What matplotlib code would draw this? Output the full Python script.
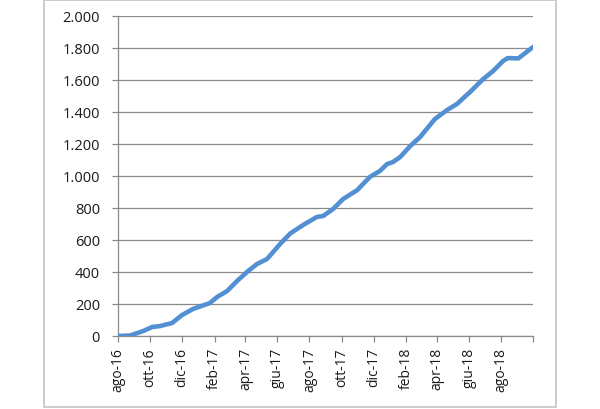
import matplotlib
matplotlib.use("Agg")
import matplotlib.pyplot as plt
from matplotlib.ticker import FuncFormatter
from matplotlib.patches import Rectangle
import pandas as pd

# ---- data ----
dates = ["2016-08-01", "2016-08-24", "2016-09-18", "2016-10-05", "2016-10-20",
         "2016-11-12", "2016-12-01", "2016-12-22", "2017-01-23", "2017-02-06",
         "2017-02-25", "2017-03-16", "2017-04-06", "2017-04-23", "2017-05-12",
         "2017-06-06", "2017-06-25", "2017-07-20", "2017-08-15", "2017-08-27",
         "2017-09-15", "2017-10-04", "2017-10-31", "2017-11-24", "2017-12-13",
         "2017-12-27", "2018-01-07", "2018-01-21", "2018-02-09", "2018-02-28",
         "2018-03-28", "2018-04-20", "2018-05-09", "2018-06-03", "2018-06-28",
         "2018-07-17", "2018-08-05", "2018-08-14", "2018-09-03", "2018-10-01"]
values = [0, 3, 31, 56, 62,
          81, 131, 169, 206, 244,
          281, 344, 406, 450, 481,
          575, 640, 694, 744, 750,
          794, 856, 912, 994, 1031,
          1075, 1087, 1119, 1187, 1244,
          1356, 1412, 1450, 1525, 1606,
          1656, 1719, 1737, 1735, 1806]

tick_dates = ["2016-08-01", "2016-10-01", "2016-12-01", "2017-02-01", "2017-04-01",
              "2017-06-01", "2017-08-01", "2017-10-01", "2017-12-01", "2018-02-01",
              "2018-04-01", "2018-06-01", "2018-08-01", "2018-10-01"]
tick_labels = ["ago-16", "ott-16", "dic-16", "feb-17", "apr-17", "giu-17", "ago-17",
               "ott-17", "dic-17", "feb-18", "apr-18", "giu-18", "ago-18", ""]
y_ticks = [0, 200, 400, 600, 800, 1000, 1200, 1400, 1600, 1800, 2000]

plt.rcParams['font.family'] = ['Open Sans', 'DejaVu Sans']

fig = plt.figure(figsize=(6, 4.1), dpi=100)
ax = fig.add_axes([118/600, 1-337/410, (533-118)/600, (337-17)/410])

x = pd.to_datetime(dates)
ax.plot(x, values, color="#5390D3", lw=3.3, solid_capstyle="round", solid_joinstyle="round", zorder=3)

ax.set_xlim(pd.Timestamp(tick_dates[0]), pd.Timestamp(tick_dates[-1]))
ax.set_ylim(0, 2000)
ax.set_yticks(y_ticks)
ax.yaxis.set_major_formatter(FuncFormatter(lambda v, p: f"{int(v):,}".replace(",", ".")))
ax.set_xticks(pd.to_datetime(tick_dates))
ax.set_xticklabels(tick_labels, rotation=90)

grid_c = "#8A8A8A"
ax.grid(axis="y", color=grid_c, lw=0.9, zorder=0)
ax.grid(axis="x", visible=False)
for s in ["top", "right"]:
    ax.spines[s].set_visible(False)
for s in ["left", "bottom"]:
    ax.spines[s].set_color(grid_c)
    ax.spines[s].set_linewidth(0.9)
ax.tick_params(axis="y", length=4, width=0.9, color=grid_c, pad=9, labelsize=10.5, labelcolor="#1a1a1a")
ax.tick_params(axis="x", length=4, width=0.9, color=grid_c, pad=4, labelsize=10, labelcolor="#1a1a1a")

fig.patches.append(Rectangle((44/600, 2/410), (556-44)/600, (409-2)/410,
                             transform=fig.transFigure, fill=False,
                             edgecolor="#C4C4C4", lw=1.2))

fig.savefig("out.png", dpi=100)
